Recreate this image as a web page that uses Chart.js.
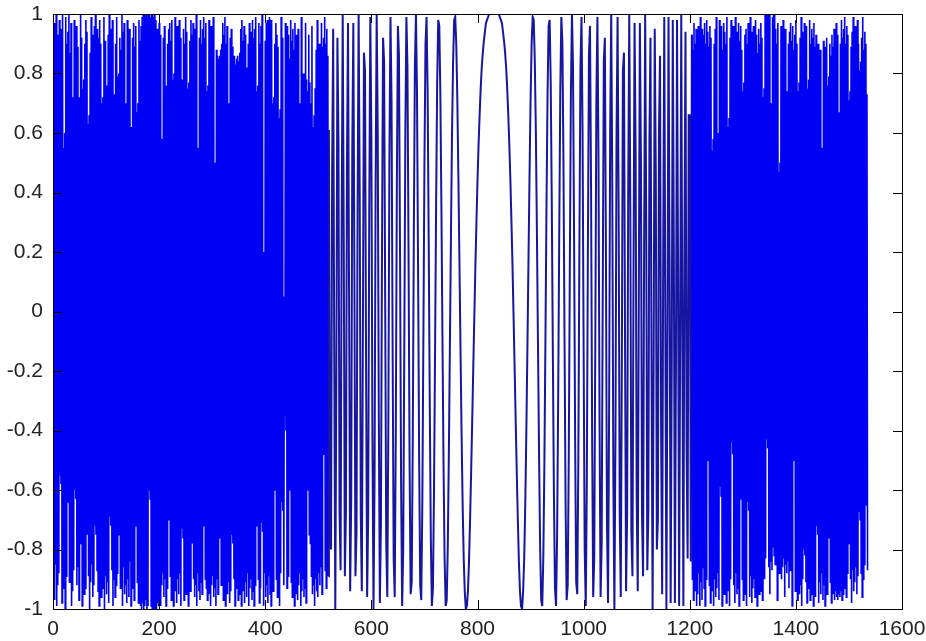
<!DOCTYPE html>
<html>
<head>
<meta charset="utf-8">
<script src="https://cdn.jsdelivr.net/npm/chart.js@4.4.1/dist/chart.umd.min.js"></script>
<style>
  html, body { margin: 0; padding: 0; background: #fff; }
  #wrap { width: 926px; height: 641px; }
</style>
</head>
<body>
<div id="wrap"><canvas id="senal" width="926" height="641"></canvas></div>
<script>
// señal chirp, muestras por zonas
// zona densa izquierda: picos (x par) y valles (x impar), x = 0..519
var picosIzq = [
  .74,.97,.9,1,.93,.86,.98,.95,.88,1,
  .55,.6,.99,.9,.94,1,.87,.97,.70,.72,
  .98,.91,.96,.89,.70,.72,1,.92,.75,.78,
  .9,.98,.94,.63,.66,.87,.99,.93,.9,.96,
  1,.88,.95,.92,.98,.9,.70,.72,.99,.91,
  .74,.76,.93,1,.89,.95,.98,.71,.73,.9,
  .99,.79,.8,.92,.88,1,.94,.97,.67,.7,
  .98,.9,.95,.60,.62,.92,.97,.89,.96,.67,
  .7,.98,.91,.96,.99,1,.99,1,1,.99,
  1,1,.99,1,1,.99,1,.98,.95,.9,
  .97,.93,.55,.58,.92,.96,.74,.76,.9,.95,
  .97,.91,.98,.78,.8,.99,.9,.96,.93,.98,
  .92,.76,.78,.95,.9,.99,.94,.75,.77,.91,
  .98,.93,.97,.89,.95,1,.52,.55,.92,.98,
  .9,.95,.99,.92,.97,.74,.76,.98,.9,.96,
  .94,.99,.46,.5,.88,.86,.85,.86,.88,.9,
  .97,.93,.99,.9,.96,.67,.7,.92,.95,.89,
  .84,.86,.83,.85,.86,.84,.87,.95,.98,.91,
  .96,.93,.80,.82,.9,.97,.94,.88,.98,.92,
  .95,.99,.74,.76,.97,.9,.96,1,.15,.2,
  .91,.97,.98,.98,.99,.98,.98,.70,.72,.9,
  .97,.93,.89,.65,.68,.99,.92,0,.05,.97,
  .9,.96,.93,.85,.98,.91,.95,.88,.97,.93,
  .79,.95,.68,.7,.99,.72,.8,.75,.97,.78,
  .74,.93,.77,.7,.96,.62,.66,.75,.88,.98,
  .88,.9,.86,.97,.89,.92,.99,.9,.95,.86
];
var vallesIzq = [
  -.9,-.97,-.85,-.99,-.92,-.88,-.55,-.58,-.98,-.86,
  -.93,-1,-.89,-.61,-.64,-.91,-.84,-.99,-.94,-.87,
  -.60,-.63,-.92,-.86,-.97,-.75,-.78,-.99,-.88,-.95,
  -.93,-.72,-.75,-.89,-1,-.91,-.85,-.96,-.92,-.72,
  -.75,-.87,-.94,-.99,-.9,-.96,-.83,-.93,-1,-.89,
  -.95,-.91,-.98,-.69,-.72,-.87,-.99,-.9,-.96,-.92,
  -.88,-.72,-.75,-.93,-.9,-.99,-.86,-.95,-.92,-.98,
  -.9,-.96,-.84,-.99,-.93,-.88,-.97,-.69,-.72,-.91,
  -.98,-.93,-.99,-1,-.98,-1,-.99,-.97,-1,-.99,
  -.60,-.63,-.99,-1,-.98,-1,-.99,-1,-.98,-.99,
  -.97,-.99,-.92,-.88,-.96,-.9,-.99,-.93,-.68,-.7,
  -.89,-.97,-.92,-.99,-.86,-.94,-.98,-.9,-.95,-.88,
  -.99,-.73,-.76,-.97,-.89,-.95,-.91,-.99,-.87,-.94,
  -.75,-.78,-.9,-.96,-.92,-.99,-.88,-.94,-.97,-.91,
  -.95,-.69,-.72,-.9,-.93,-.97,-.86,-.95,-.99,-.92,
  -.89,-.96,-.93,-.99,-.9,-.95,-.73,-.76,-.92,-.87,
  -.97,-.93,-.99,-.88,-.95,-.91,-.98,-.94,-.75,-.78,
  -.9,-.99,-.93,-.87,-.97,-.92,-.95,-.99,-.89,-.94,
  -.98,-.91,-.96,-.88,-.99,-.93,-.9,-.97,-.94,-.99,
  -.92,-.69,-.72,-.9,-.98,-.93,-.71,-.74,-.99,-.88,
  -.96,-.92,-.98,-.89,-.95,-.99,-.91,-.94,-.57,-.6,
  -.9,-.96,-.93,-.99,-.88,-.64,-.67,-.92,-.35,-.4,
  -.93,-.89,-.56,-.6,-.91,-.96,-.94,-.99,-.9,-.95,
  -.97,-.92,-.88,-.99,-.94,-.9,-.96,-.93,-.98,-.56,
  -.6,-.75,-.78,-.89,-.95,-.92,-.99,-.9,-.94,-.96,
  -.88,-.92,-.86,-.95,-.44,-.48,-.87,-.93,-.76,-.89
];
// barrido izquierdo, x = 520..778 cada 2
var barridoIzq = [
  .61,-.70,-.80,.47,.95,-.15,-1,-.21,.92,.58,
  -.67,-.87,.28,1,.22,-.89,-.68,.51,.97,.05,
  -.94,-.63,.54,.97,.12,-.89,-.74,.35,1,.40,
  -.68,-.94,-.08,.87,.81,-.18,-.96,-.68,.34,.99,
  .59,-.42,-1,-.56,.43,1,.60,-.35,-.98,-.71,
  .20,.92,.84,.05,-.78,-.96,-.37,.52,.99,.71,
  -.10,-.83,-.96,-.41,.42,.96,.86,.20,-.58,-.99,
  -.80,-.13,.60,.99,.82,.21,-.51,-.95,-.91,-.43,
  .26,.82,1,.73,.15,-.49,-.92,-.97,-.65,-.09,
  .50,.90,.99,.74,.25,-.30,-.76,-.99,-.93,-.61,
  -.14,.36,.77,.98,.96,.73,.35,-.10,-.52,-.83,
  -.99,-.97,-.79,-.48,-.11,.26,.60,.84,.98,.99,
  .90,.71,.45,.16,-.13,-.41,-.65,-.83,-.94,-1
];
// lóbulo central, x = 780..882 cada 2
var lobulo = [
  -.99,-.94,-.84,-.70,-.54,-.37,-.19,-.02,.15,.30,
  .44,.56,.66,.75,.82,.87,.91,.94,.97,.98,
  .99,1,1,1,1,1,1,1,1,1,
  1,.99,.98,.97,.94,.91,.87,.82,.75,.66,
  .56,.44,.30,.15,-.02,-.19,-.37,-.54,-.70,-.84,
  -.94,-.99
];
// barrido derecho, x = 884..1202 cada 2
var barridoDer = [
  -1,-.94,-.83,-.65,-.41,-.13,.16,.45,.71,.90,
  .99,.98,.84,.60,.26,-.11,-.48,-.79,-.97,-.99,
  -.83,-.52,-.10,.35,.73,.96,.98,.77,.36,-.14,
  -.61,-.93,-.99,-.76,-.30,.25,.74,.99,.90,.50,
  -.09,-.65,-.97,-.92,-.49,.15,.73,1,.82,.26,
  -.43,-.91,-.95,-.51,.21,.82,.99,.60,-.13,-.80,
  -.99,-.58,.20,.86,.96,.42,-.41,-.96,-.83,-.10,
  .71,.99,.52,-.37,-.96,-.78,.05,.84,.92,.20,
  -.71,-.98,-.35,.60,1,.43,-.56,-1,-.42,.59,
  .99,.34,-.68,-.96,-.18,.81,.87,-.08,-.94,-.68,
  .40,1,.35,-.74,-.89,.12,.97,.54,-.63,-.94,
  .05,.97,.51,-.68,-.89,.22,1,.28,-.87,-.67,
  .58,.92,-.21,-1,-.15,.95,.47,-.80,-.70,.61,
  .86,-.41,-.95,.22,.99,-.06,-1,-.07,.99,.16,
  -.98,-.21,.98,.22,-.98,-.20,.98,.14,-.99,-.04,
  1,-.09,-.99,.26,.94,-.45,-.83,.66,.66,-.84
];
// zona densa derecha, x = 1204..1535
var picosDer = [
  .93,.88,.97,.9,.95,
  .9,.96,.92,.99,.88,.95,.93,.97,.9,.98,
  .94,.89,.96,.92,.54,.58,.9,.95,.99,.56,
  .6,.98,.91,.96,.88,.97,.94,.9,.99,.62,
  .65,.92,.98,.89,.96,.93,.99,.9,.94,.97,
  .91,.96,.88,.74,.77,.93,.95,.9,.97,.92,
  .99,.89,.94,.96,.91,.98,.93,.87,.95,.9,
  .97,.92,.72,.75,1,1,.99,1,1,.68,
  .7,.99,1,1,.95,.9,.97,.47,.5,.96,
  .89,.98,.92,.95,.71,.74,.9,.94,.97,.91,
  .96,.88,.93,.98,.9,.74,.77,.92,.99,.89,
  .94,.97,.91,.96,.75,.78,.98,.9,.95,.92,
  .97,.89,.93,.86,.9,.84,.88,.52,.55,.91,
  .85,.89,.92,.76,.79,.9,.86,.93,.89,.95,
  .91,.97,.93,.64,.67,.9,.98,.92,.95,.99,
  .9,.96,.93,.71,.74,.89,.94,.99,.91,.96,
  .93,.98,.9,.81,.84,.92,.99,.88,.94,.9,
  .73
];
var vallesDer = [
  -.9,-.97,-.86,-.94,-.99,
  -.95,-.88,-.99,-.91,-.97,-.86,-.93,-.99,-.9,-.46,
  -.5,-.92,-.98,-.87,-.94,-.99,-.9,-.96,-.93,-.88,
  -.97,-.59,-.62,-.99,-.89,-.95,-.91,-.98,-.86,-.94,
  -.99,-.9,-.44,-.48,-.92,-.98,-.88,-.95,-.93,-.99,
  -.60,-.63,-.9,-.97,-.87,-.95,-.99,-.64,-.67,-.96,
  -.89,-.98,-.93,-.9,-.96,-.86,-.99,-.92,-.95,-.88,
  -.94,-.97,-.85,-.9,-.83,-.43,-.46,-.86,-.95,-.84,
  -.87,-.79,-.82,-.85,-.83,-.97,-.86,-.88,-.84,-.9,
  -.86,-.83,-.96,-.85,-.88,-.84,-.93,-.87,-.85,-.99,
  -.47,-.5,-.94,-.9,-.97,-.89,-.95,-.92,-.99,-.9,
  -.80,-.82,-.91,-.98,-.93,-.89,-.97,-.92,-.95,-.99,
  -.9,-.96,-.72,-.75,-.98,-.91,-.95,-.88,-.97,-.92,
  -.99,-.9,-.95,-.73,-.76,-.91,-.98,-.93,-.95,-.97,
  -.94,-.96,-.97,-.95,-.96,-.94,-.97,-.95,-.93,-.9,
  -.96,-.88,-.75,-.78,-.9,-.98,-.87,-.94,-.91,-.86,
  -.95,-.89,-.67,-.7,-.88,-.96,-.9,-.85,-.62,-.65,
  -.87
];

var ticksX = [0, 200, 400, 600, 800, 1000, 1200, 1400, 1600];
var ticksY = [-1, -0.8, -0.6, -0.4, -0.2, 0, 0.2, 0.4, 0.6, 0.8, 1];

function intercalar(a, b) {
  var r = [];
  for (var i = 0; i < a.length; i++) { r.push(a[i]); r.push(b[i]); }
  return r;
}

var tramos = [
  { desde: 0, paso: 1, valores: intercalar(picosIzq, vallesIzq) },
  { desde: 520, paso: 2, valores: barridoIzq },
  { desde: 780, paso: 2, valores: lobulo },
  { desde: 884, paso: 2, valores: barridoDer },
  { desde: 1204, paso: 1, valores: intercalar(picosDer, vallesDer) }
];

var puntos = [];
tramos.forEach(function (t) {
  t.valores.forEach(function (v, i) { puntos.push({ x: t.desde + i * t.paso, y: v }); });
});

// ticks hacia dentro y caja, estilo matlab
var cajaMatlab = {
  id: 'cajaMatlab',
  afterDraw: function (chart) {
    var ctx = chart.ctx, a = chart.chartArea, sx = chart.scales.x, sy = chart.scales.y, L = 9;
    ctx.save();
    ctx.strokeStyle = '#000';
    ctx.lineWidth = 1;
    ctx.beginPath();
    sx.ticks.forEach(function (t, i) {
      var p = Math.round(sx.getPixelForTick(i)) + 0.5;
      ctx.moveTo(p, a.bottom); ctx.lineTo(p, a.bottom - L);
      ctx.moveTo(p, a.top); ctx.lineTo(p, a.top + L);
    });
    sy.ticks.forEach(function (t, i) {
      var p = Math.round(sy.getPixelForTick(i)) + 0.5;
      ctx.moveTo(a.left, p); ctx.lineTo(a.left + L, p);
      ctx.moveTo(a.right, p); ctx.lineTo(a.right - L, p);
    });
    ctx.stroke();
    ctx.strokeRect(Math.round(a.left) + 0.5, Math.round(a.top) + 0.5,
      Math.round(a.right - a.left), Math.round(a.bottom - a.top));
    ctx.restore();
  }
};

function zonaMedia(c) {
  var x = c.p0.parsed.x;
  return x >= 519 && x < 1203;
}

var ctx = document.getElementById('senal').getContext('2d');
var grafica = new Chart(ctx, {
  type: 'line',
  data: {
    datasets: [{
      data: puntos,
      borderColor: '#0000f5',
      borderWidth: 1.6,
      pointRadius: 0,
      tension: 0,
      fill: false,
      segment: {
        borderColor: function (c) { return zonaMedia(c) ? '#1616a0' : '#0000f5'; },
        borderWidth: function (c) { return zonaMedia(c) ? 2 : 1.6; }
      }
    }]
  },
  options: {
    responsive: false,
    animation: false,
    layout: { padding: { top: 14, right: 24, left: 0, bottom: 0 } },
    plugins: { legend: { display: false }, tooltip: { enabled: false } },
    scales: {
      x: {
        type: 'linear', min: 0, max: 1600,
        afterBuildTicks: function (s) { s.ticks = ticksX.map(function (v) { return { value: v }; }); },
        afterFit: function (s) { s.height = 32; s.paddingLeft = 0; s.paddingRight = 0; },
        grid: { display: false, drawTicks: false },
        border: { display: false },
        ticks: { padding: 8, color: '#222', maxRotation: 0, autoSkip: false,
          font: { family: 'Liberation Sans', size: 21 },
          callback: function (v) { return String(v); } }
      },
      y: {
        min: -1, max: 1,
        afterBuildTicks: function (s) { s.ticks = ticksY.map(function (v) { return { value: v }; }); },
        afterFit: function (s) { s.width = 53; s.paddingTop = 0; s.paddingBottom = 0; },
        grid: { display: false, drawTicks: false },
        border: { display: false },
        ticks: { padding: 10, color: '#222', autoSkip: false,
          font: { family: 'Liberation Sans', size: 21 },
          callback: function (v) { return String(Math.round(v * 10) / 10); } }
      }
    }
  },
  plugins: [cajaMatlab]
});
</script>
</body>
</html>
